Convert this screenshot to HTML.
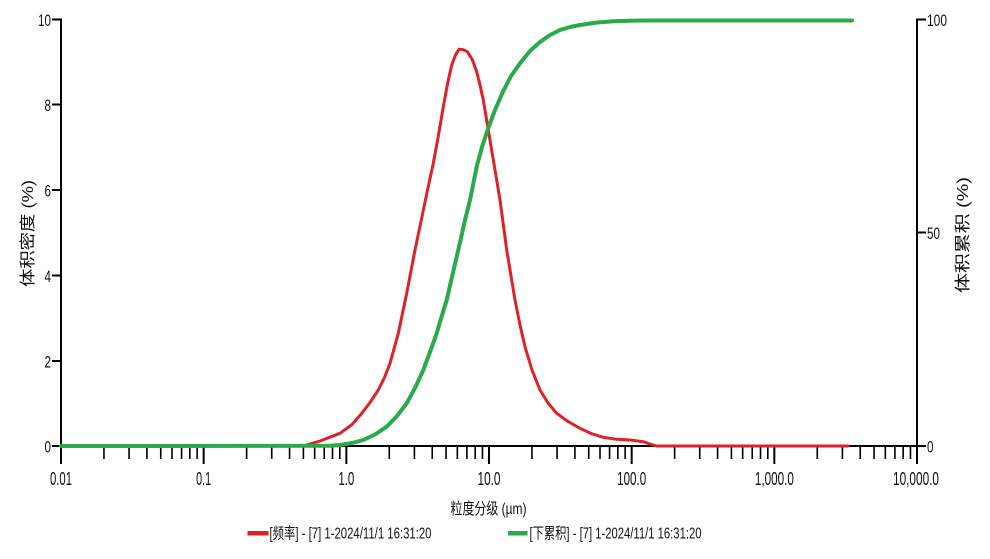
<!DOCTYPE html>
<html>
<head>
<meta charset="utf-8">
<style>
html,body{margin:0;padding:0;background:#fff;}
svg{display:block;}
text{font-family:"Liberation Sans","Noto Sans CJK SC",sans-serif;fill:#111;}
</style>
</head>
<body>
<svg width="990" height="559" viewBox="0 0 990 559" xmlns="http://www.w3.org/2000/svg">
<rect width="990" height="559" fill="#fff"/>
<defs>
<g id="minor" stroke="#000" stroke-width="1.6">
<line x1="42.95" y1="446" x2="42.95" y2="459"/>
<line x1="68.07" y1="446" x2="68.07" y2="459"/>
<line x1="85.9" y1="446" x2="85.9" y2="459"/>
<line x1="99.73" y1="446" x2="99.73" y2="459"/>
<line x1="111.0" y1="446" x2="111.0" y2="459"/>
<line x1="120.57" y1="446" x2="120.57" y2="459"/>
<line x1="128.84" y1="446" x2="128.84" y2="459"/>
<line x1="136.14" y1="446" x2="136.14" y2="459"/>
</g>
</defs>

<use href="#minor" transform="translate(61,0)"/>
<use href="#minor" transform="translate(203.67,0)"/>
<use href="#minor" transform="translate(346.33,0)"/>
<use href="#minor" transform="translate(489,0)"/>
<use href="#minor" transform="translate(631.67,0)"/>
<use href="#minor" transform="translate(774.33,0)"/>

<g stroke="#000" stroke-width="2">
<line x1="61" y1="446" x2="61" y2="464"/>
<line x1="203.67" y1="446" x2="203.67" y2="464"/>
<line x1="346.33" y1="446" x2="346.33" y2="464"/>
<line x1="489" y1="446" x2="489" y2="464"/>
<line x1="631.67" y1="446" x2="631.67" y2="464"/>
<line x1="774.33" y1="446" x2="774.33" y2="464"/>
<line x1="917" y1="446" x2="917" y2="464"/>
<line x1="52" y1="19.5" x2="61" y2="19.5"/>
<line x1="52" y1="104.5" x2="61" y2="104.5"/>
<line x1="52" y1="190" x2="61" y2="190"/>
<line x1="52" y1="275.5" x2="61" y2="275.5"/>
<line x1="52" y1="361" x2="61" y2="361"/>
<line x1="52" y1="446" x2="61" y2="446"/>
<line x1="917" y1="19.5" x2="926" y2="19.5"/>
<line x1="917" y1="232.5" x2="926" y2="232.5"/>
<line x1="917" y1="446" x2="926" y2="446"/>
</g>

<g stroke="#000" stroke-width="2" fill="none">
<line x1="61" y1="18.5" x2="61" y2="447"/>
<line x1="917" y1="18.5" x2="917" y2="447"/>
<line x1="60" y1="446" x2="918" y2="446"/>
</g>

<polyline fill="none" stroke="#dd2228" stroke-width="3" stroke-linejoin="round" stroke-linecap="round"
points="61,446 305,445.5 320,441 340,433.3 352,424.5 361.7,413.3 370,402.5 378.3,390 384.5,377.5 390,363.3 398.3,333.3 406.7,293.3 415,250 421.7,218 427.5,190 433.3,163.3 438.5,135 443.3,106.7 447.5,84 451.7,65 455.5,55 459,49.3 463.5,49.8 467.3,51.7 472,59 476.7,71.7 480,85 483.3,100 488.3,130 495,170 500,200 506.7,250 515,300 520,325 525,346.7 532,370 540,390 548,403 556.7,413.3 568,421.5 580,428.3 591,433.5 603.3,437.3 617,439.3 630,440 643.3,441.7 650,444 656.7,446 848,446"/>

<polyline fill="none" stroke="#2aaa4a" stroke-width="4" stroke-linejoin="round" stroke-linecap="round"
points="61,446 330,445.8 340,445 352,443 363.3,440 375,434.5 386.7,426.7 397,416 406.7,403.3 415,388 423.3,370 430,352 436.7,333.3 441.5,317 446.7,300 451.5,279 456.7,256.7 461,238 465,220 470,200 476.7,166.7 482,147 488.3,128 495,110 503.3,91 511,76 520,63.3 530,51 540,42 550,35 560,30 570,27 580,25 596,22.6 613.3,21.2 630,20.7 646.7,20.5 852,20.5"/>

<g font-size="18" text-anchor="middle">
<text x="61" y="485" textLength="22" lengthAdjust="spacingAndGlyphs">0.01</text>
<text x="203.67" y="485" textLength="15" lengthAdjust="spacingAndGlyphs">0.1</text>
<text x="346.33" y="485" textLength="16" lengthAdjust="spacingAndGlyphs">1.0</text>
<text x="489" y="485" textLength="23" lengthAdjust="spacingAndGlyphs">10.0</text>
<text x="631.67" y="485" textLength="29" lengthAdjust="spacingAndGlyphs">100.0</text>
<text x="774.33" y="485" textLength="39" lengthAdjust="spacingAndGlyphs">1,000.0</text>
<text x="916" y="485" textLength="46" lengthAdjust="spacingAndGlyphs">10,000.0</text>
</g>

<g font-size="17" text-anchor="end">
<text x="51" y="26" textLength="13" lengthAdjust="spacingAndGlyphs">10</text>
<text x="51" y="111" textLength="6.5" lengthAdjust="spacingAndGlyphs">8</text>
<text x="51" y="196.5" textLength="6.5" lengthAdjust="spacingAndGlyphs">6</text>
<text x="51" y="282" textLength="6.5" lengthAdjust="spacingAndGlyphs">4</text>
<text x="51" y="367.5" textLength="6.5" lengthAdjust="spacingAndGlyphs">2</text>
<text x="51" y="452.5" textLength="6.5" lengthAdjust="spacingAndGlyphs">0</text>
</g>

<g font-size="17" text-anchor="start">
<text x="927" y="26" textLength="20" lengthAdjust="spacingAndGlyphs">100</text>
<text x="927" y="239" textLength="13" lengthAdjust="spacingAndGlyphs">50</text>
<text x="927" y="452.5" textLength="6.5" lengthAdjust="spacingAndGlyphs">0</text>
</g>

<text x="450.5" y="514" font-size="16" textLength="76" lengthAdjust="spacingAndGlyphs">粒度分级 (µm)</text>
<text transform="translate(33,287) rotate(-90)" x="0" y="0" font-size="16" textLength="107" lengthAdjust="spacingAndGlyphs">体积密度 (%)</text>
<text transform="translate(968,293) rotate(-90)" x="0" y="0" font-size="16" textLength="116" lengthAdjust="spacingAndGlyphs">体积累积 (%)</text>

<line x1="247.5" y1="533.3" x2="268.5" y2="533.3" stroke="#dd2228" stroke-width="4.5"/>
<text x="269.5" y="538.5" font-size="15.5" textLength="162" lengthAdjust="spacingAndGlyphs">[频率] - [7] 1-2024/11/1 16:31:20</text>
<line x1="508" y1="533.3" x2="527.5" y2="533.3" stroke="#2aaa4a" stroke-width="4.5"/>
<text x="529.5" y="538.5" font-size="15.5" textLength="172" lengthAdjust="spacingAndGlyphs">[下累积] - [7] 1-2024/11/1 16:31:20</text>
</svg>
</body>
</html>
